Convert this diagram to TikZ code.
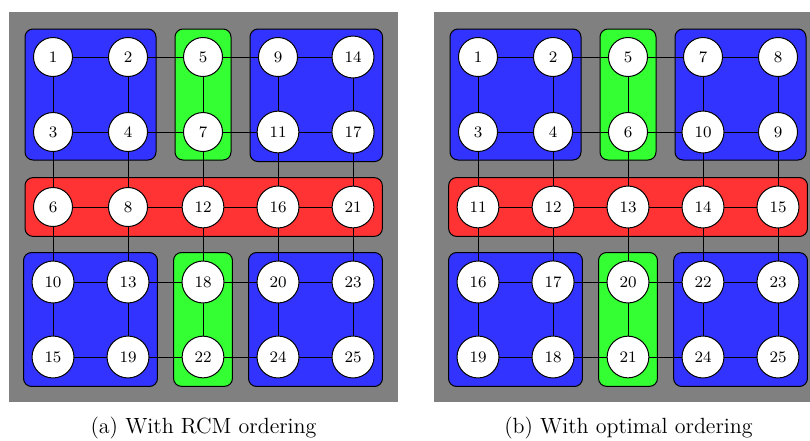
\documentclass[tikz,border=0pt]{standalone}
\usepackage{amsmath,amssymb}
\usetikzlibrary{fit}
\pgfdeclarelayer{back}
\pgfdeclarelayer{mid}
\pgfsetlayers{back,mid,main}

\begin{document}
\begin{tikzpicture}[x=0.5pt,y=-0.5pt,
		vtx/.style={circle,draw,fill=white,line width=0.5pt,minimum size=19.5pt,inner sep=3.9pt,font=\footnotesize},
		blk/.style={draw,rounded corners=4pt,inner sep=4pt,line width=0.5pt},
		link/.style={draw,line width=0.5pt},
		capt/.style={anchor=base,font=\fontsize{11}{13}\selectfont}]
		\useasboundingbox (0,0) rectangle (810,440);
		\foreach \p/\xo/\labs in {a/0/{1,2,5,9,14,3,4,7,11,17,6,8,12,16,21,10,13,18,20,23,15,19,22,24,25},
			b/425/{1,2,5,7,8,3,4,6,10,9,11,12,13,14,15,16,17,20,22,23,19,18,21,24,25}} {
			% 5x5 grid of vertices
			\foreach \lab [count=\i from 0] in \labs {
				\pgfmathtruncatemacro\rr{int(\i/5)+1}
				\pgfmathtruncatemacro\kk{mod(\i,5)+1}
				\node[vtx] (\p-\rr-\kk) at (\xo+75*\kk-22,75*\rr-18) {\lab};
			}
			\begin{pgfonlayer}{back}
				\fill[gray] (\xo+9,12) rectangle (\xo+398,402);
				\node[blk,fill=blue!80,fit=(\p-1-1)(\p-2-2)] (\p-nw) {};
				\node[blk,fill=green!80,fit=(\p-1-3)(\p-2-3)] (\p-n) {};
				\node[blk,fill=blue!80,fit=(\p-1-4)(\p-2-5)] (\p-ne) {};
				\node[blk,fill=red!80,fit=(\p-3-1)(\p-3-5)] (\p-sep) {};
				\node[blk,fill=blue!80,fit=(\p-4-1)(\p-5-2)] (\p-sw) {};
				\node[blk,fill=green!80,fit=(\p-4-3)(\p-5-3)] (\p-s) {};
				\node[blk,fill=blue!80,fit=(\p-4-4)(\p-5-5)] (\p-se) {};
			\end{pgfonlayer}
			% grid edges
			\begin{pgfonlayer}{mid}
				\foreach \rr in {1,...,5} {
					\foreach \kk/\nn in {1/2,2/3,3/4,4/5} {
						\path[link] (\p-\rr-\kk.center) -- (\p-\rr-\nn.center);
						\path[link] (\p-\kk-\rr.center) -- (\p-\nn-\rr.center);
					}
				}
			\end{pgfonlayer}
		}
		\node[capt] (capa) at (203.5,433) {(a) With RCM ordering};
		\node[capt] (capb) at (628.5,433) {(b) With optimal ordering};
		\end{tikzpicture}
\end{document}
